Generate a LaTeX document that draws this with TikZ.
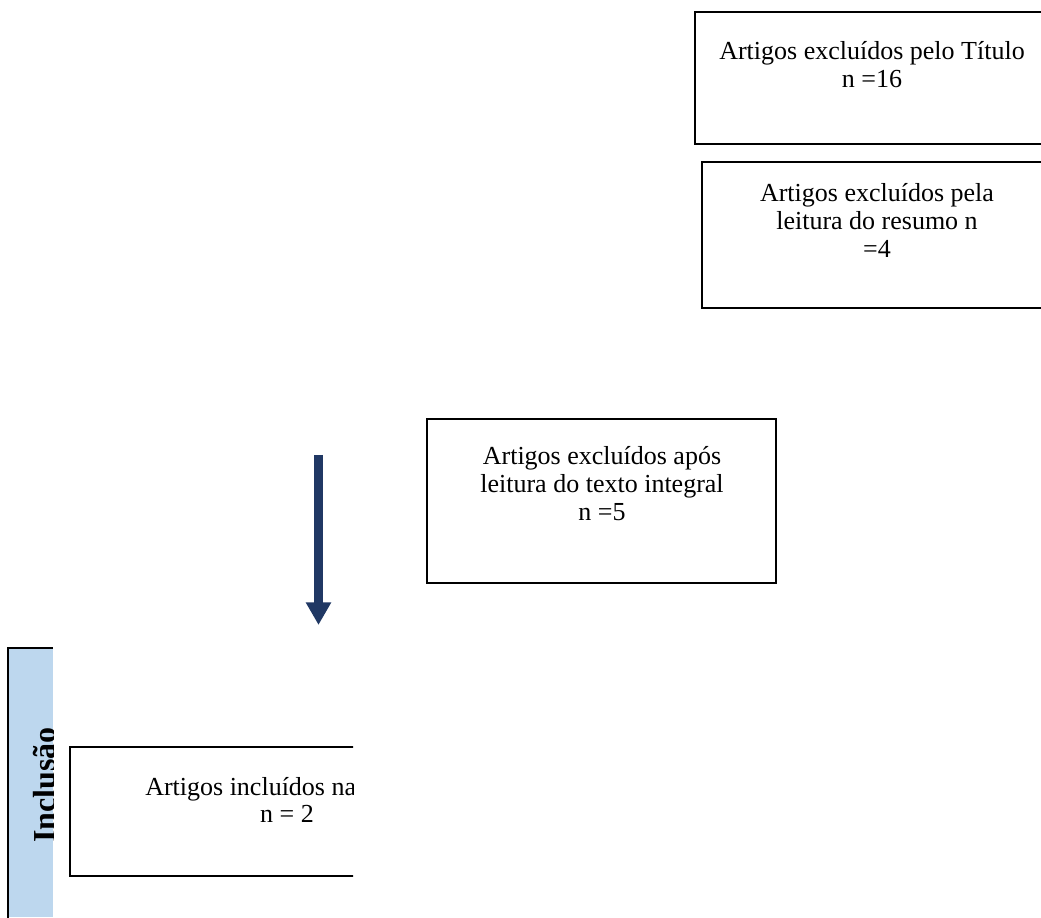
\documentclass[tikz,border=0pt]{standalone}
\usepackage{fontspec}
\setmainfont{Liberation Serif}
\usepackage{xcolor}
\usetikzlibrary{arrows.meta}
\definecolor{barblue}{RGB}{189,215,238}
\definecolor{arrownavy}{RGB}{32,56,100}
\tikzset{
    caixa/.style={line width=1.5pt},
    texto/.style={font=\fontsize{19.5}{21}\selectfont, align=center, inner sep=0pt},
    seta/.style={arrownavy, line width=6.5pt, -{Triangle[length=17pt, width=18pt]}}
}

\begin{document}
\begin{tikzpicture}[x=0.75pt, y=0.75pt]
                \clip (0, 0) rectangle (1041, 917);
                \draw[caixa] (695, 905) rectangle (1050, 773);
                \draw[caixa] (702, 755) rectangle (1052, 609);
                \draw[caixa] (427, 498) rectangle (776, 334);

                \node[texto] (titulo) at (872, 829) [anchor=base] {Artigos excluídos pelo Título\\n =16};
                \node[texto] (resumo) at (877, 659) [anchor=base] {Artigos excluídos pela\\leitura do resumo n\\=4};
                \node[texto] (integral) at (602, 396) [anchor=base] {Artigos excluídos após\\leitura do texto integral\\n =5};

                \coordinate (s1) at (318.5, 462);
                \coordinate (s2) at (318.5, 292);
                \draw[seta] (s1) -- (s2);

                \begin{scope}
                    \clip (8, 0) rectangle (53, 269);
                    \fill[barblue] (8, 0) rectangle (53, 269);
                    \node[rotate=90, anchor=base, inner sep=0pt, font=\bfseries\fontsize{24}{28}\selectfont] (inclusao) at (55, 132) {Inclusão};
                \end{scope}
                \draw[caixa] (8, -5) -- (8, 269) -- (53, 269);

                \begin{scope}
                    \clip (0, 0) rectangle (353, 917);
                    \draw[caixa] (70, 170) rectangle (420, 41);
                    \node[texto] (incluidos) at (145, 122) [anchor=base west] {Artigos incluídos na};
                \end{scope}
                \node[texto] (total) at (287, 95) [anchor=base] {n = 2};
\end{tikzpicture}
\end{document}
